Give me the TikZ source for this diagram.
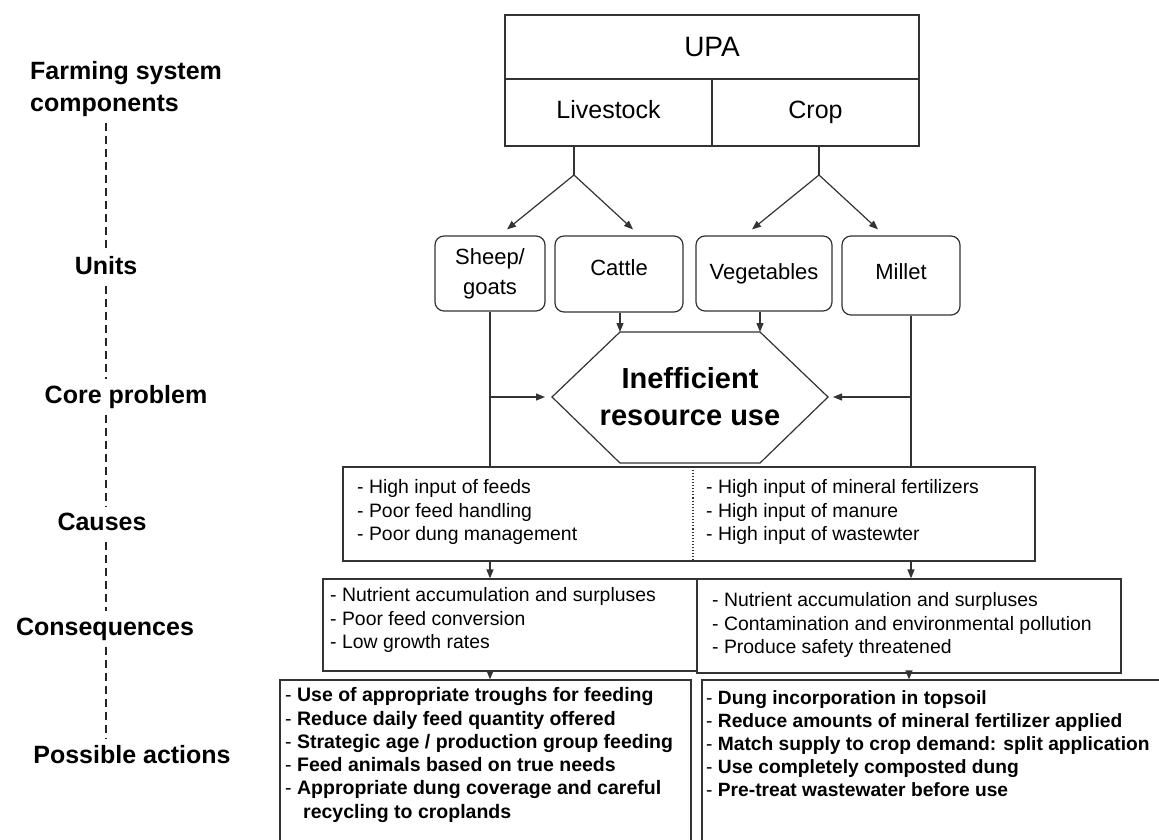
\documentclass[tikz,border=0pt]{standalone}
\usepackage{fontspec}
\setmainfont{Liberation Sans}
\usetikzlibrary{arrows.meta}
\tikzset{
  box/.style={draw=black!80, line width=1.2pt, rectangle, inner sep=0pt},
  unit/.style={box, rounded corners=9pt, font=\fontsize{22}{30}\selectfont, align=center},
  ln/.style={draw=black!80, line width=1.2pt},
  arr/.style={ln, -{Triangle[length=9pt,width=7pt]}},
  body/.style={font=\fontsize{19.4}{23.3}\selectfont, align=left, inner sep=0pt, anchor=west},
  actbody/.style={font=\fontsize{19.5}{23.3}\selectfont, align=left, inner sep=0pt, anchor=west},
  lab/.style={font=\bfseries\fontsize{25}{32}\selectfont, inner sep=6pt, text height=18pt, text depth=5pt},
  head/.style={box, minimum width=207pt, minimum height=67pt, font=\fontsize{25}{30}\selectfont, text height=18pt, text depth=5pt},
  dl/.style={draw=black!85, dash pattern=on 8pt off 5pt, line width=2pt}
}
\begin{document}
\begin{tikzpicture}[x=1pt,y=-1pt]
\useasboundingbox (0,0) rectangle (1159,840);
\clip (0,0) rectangle (1159,840);

% left column labels
\node[font=\bfseries\fontsize{25}{32}\selectfont, inner sep=6pt, anchor=west, align=left] (farm) at (24,89) {Farming system\\components};
\node[lab] (units) at (106,268) {Units};
\node[lab] (corep) at (126,397) {Core problem};
\node[lab] (causeslab) at (102,524) {Causes};
\node[lab] (conslab) at (105,629) {Consequences};
\node[lab] (poss) at (132,757) {Possible actions};
\draw[dl] (farm.south -| units) -- (units.north);
\draw[dl] (units.south) -- (units.south |- corep.north);
\draw[dl] (units.south |- corep.south) -- (units.south |- causeslab.north);
\draw[dl] (units.south |- causeslab.south) -- (units.south |- conslab.north);
\draw[dl] (units.south |- conslab.south) -- (units.south |- poss.north);

% top table
\node[box, minimum width=414pt, minimum height=64pt, font=\fontsize{28}{30}\selectfont] (upa) at (712,47) {UPA};
\node[head] (live) at (608.5,112.5) {Livestock};
\node[head] (crop) at (815.5,112.5) {Crop};

% units
\node[unit, minimum width=110pt, minimum height=75pt] (sheep) at (490,273.5) {Sheep/\\goats};
\node[unit, minimum width=128pt, minimum height=76pt, text height=16pt, text depth=14pt] (cattle) at (619,274) {Cattle};
\node[unit, minimum width=136pt, minimum height=75pt] (veg) at (764,273.5) {Vegetables};
\node[unit, minimum width=118pt, minimum height=79pt, text height=16pt, text depth=8pt] (millet) at (901,275.5) {Millet};

\coordinate (lsb) at (574,175);
\coordinate (crb) at (819,175);
\draw[ln] (live.south -| lsb) -- (lsb);
\draw[ln] (crop.south -| crb) -- (crb);
\draw[arr] (lsb) -- ([xshift=17pt,yshift=6pt]sheep.north);
\draw[arr] (lsb) -- ([xshift=14pt,yshift=6pt]cattle.north);
\draw[arr] (crb) -- ([xshift=-12pt,yshift=6pt]veg.north);
\draw[arr] (crb) -- ([xshift=-23pt,yshift=6pt]millet.north);

% core problem hexagon
\coordinate (hTL) at (620,332);
\coordinate (hTR) at (760,332);
\coordinate (hR) at (828,397);
\coordinate (hBR) at (760,463);
\coordinate (hBL) at (620,463);
\coordinate (hL) at (552,397);
\draw[ln] (hTL) -- (hTR) -- (hR) -- (hBR) -- (hBL) -- (hL) -- cycle;
\node[font=\bfseries\fontsize{29}{37}\selectfont, align=center, inner sep=0pt] (core) at (690,397) {Inefficient\\resource use};
\draw[arr] (cattle.south -| hTL) -- (hTL);
\draw[arr] (veg.south -| hTR) -- (hTR);

% causes
\node[box, minimum width=692pt, minimum height=94pt] (causes) at (689,514) {};
\coordinate (div) at (693,514);
\draw[draw=black!80, dotted, line width=1.1pt] (causes.north -| div) -- (causes.south -| div);
\node[body] (causesL) at (357,512) {- High input of feeds\\- Poor feed handling\\- Poor dung management};
\node[body] (causesR) at (706,512) {- High input of mineral fertilizers\\- High input of manure\\- High input of wastewter};

\coordinate (mline) at (911,397);
\draw[ln] (sheep.south) -- (causes.north -| sheep.south);
\draw[arr] (sheep.south |- hL) -- ([xshift=-7pt]hL);
\draw[ln] (millet.south -| mline) -- (causes.north -| mline);
\draw[arr] (mline) -- ([xshift=5pt]hR);

% consequences
\node[box, minimum width=374pt, minimum height=92pt] (consL) at (510,625) {};
\node[box, minimum width=424pt, minimum height=94pt] (consR) at (909,626) {};
\node[body] (consLt) at (330,620) {- Nutrient accumulation and surpluses\\- Poor feed conversion\\- Low growth rates};
\node[body] (consRt) at (712,625) {- Nutrient accumulation and surpluses\\- Contamination and environmental pollution\\- Produce safety threatened};
\draw[arr] (causes.south -| sheep.south) -- (consL.north -| sheep.south);
\draw[arr] (causes.south -| mline) -- (consR.north -| mline);

% possible actions
\node[box, minimum width=411pt, minimum height=170pt] (actL) at (485.5,765) {};
\node[box, minimum width=470pt, minimum height=170pt] (actR) at (937,765) {};
\draw[arr] (consL.south -| sheep.south) -- (actL.north -| sheep.south);
\draw[arr] (consR.south) -- (actR.north -| consR.south);
\node[actbody] (actLt) at (285,755) {- \textbf{Use of appropriate troughs for feeding}\\- \textbf{Reduce daily feed quantity offered}\\- \textbf{Strategic age / production group feeding}\\- \textbf{Feed animals based on true needs}\\- \textbf{Appropriate dung coverage and careful}\\\hspace*{18pt}\textbf{recycling to croplands}};
\node[actbody, font=\fontsize{19.2}{23}\selectfont] (actRt) at (706,743.5) {- \textbf{Dung incorporation in topsoil}\\- \textbf{Reduce amounts of mineral fertilizer applied}\\- \textbf{Match supply to crop demand: split application}\\- \textbf{Use completely composted dung}\\- \textbf{Pre-treat wastewater before use}};
\end{tikzpicture}
\end{document}
